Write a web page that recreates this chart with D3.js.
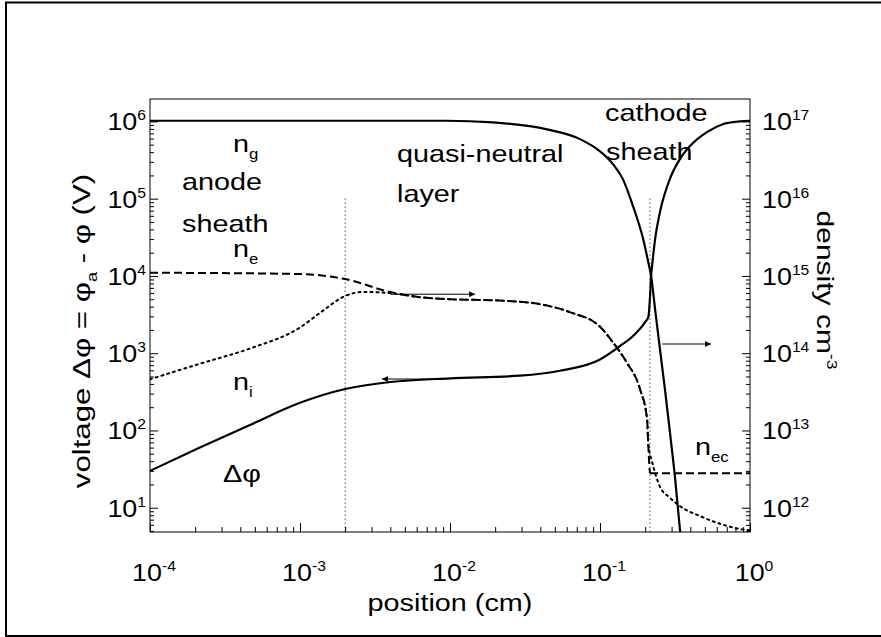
<!DOCTYPE html>
<html>
<head>
<meta charset="utf-8">
<script src="https://cdn.jsdelivr.net/npm/d3@7"></script>
<style>
  body { margin: 0; background: #fff; }
  svg text { font-family: "Liberation Sans", Arial, Helvetica, sans-serif; fill: #000; }
</style>
</head>
<body>
<svg id="chart" width="881" height="637"></svg>
<script>
// ---- axis domains and tick decades ----
const posDomain = [1e-4, 1];
const voltDomain = [4.85, 1.95e6];
const densDomain = [4.85e11, 1.95e17];
const posDecades = [-4, -3, -2, -1, 0];
const voltDecades = [1, 2, 3, 4, 5, 6];
const densDecades = [12, 13, 14, 15, 16, 17];

// ---- potential drop Δφ (V) vs position (cm) ----
const phiX = [1e-4, 2.15e-4, 4.64e-4, 1e-3, 2e-3, 4e-3, 1e-2, 2.93e-2, 5.4e-2, 0.1, 0.136, 0.166, 0.2, 0.21, 0.2154, 0.219, 0.222, 0.233, 0.251, 0.292, 0.341, 0.398, 0.516, 0.658, 0.858, 1];
const phiV = [30, 60, 118, 228, 344, 424, 473, 512, 593, 830, 1240, 1670, 2530, 2940, 5300, 1.0e4, 1.3e4, 3.0e4, 6.7e4, 1.79e5, 3.25e5, 4.79e5, 7.26e5, 9.2e5, 1.0e6, 1.02e6];

// ---- gas density n_g (cm^-3) ----
const ngX = [1e-4, 1e-3, 0.0095, 0.0194, 0.0443, 0.0736, 0.1, 0.122, 0.142, 0.166, 0.194, 0.209, 0.219, 0.233, 0.251, 0.271, 0.292, 0.316, 0.341, 0.35];
const ngV = [1.02e17, 1.02e17, 1.02e17, 9.7e16, 7.9e16, 5.9e16, 4.1e16, 2.8e16, 1.79e16, 8.0e15, 3.0e15, 1.56e15, 1.0e15, 3.7e14, 1.13e14, 3.4e13, 9.8e12, 2.5e12, 5.3e11, 3.3e11];

// ---- electron density n_e (cm^-3) ----
const neX = [1e-4, 1e-3, 2e-3, 4e-3, 6.3e-3, 1e-2, 2.15e-2, 4e-2, 6.3e-2, 0.1, 0.122, 0.15, 0.185, 0.206, 0.21, 0.214, 0.2154];
const neV = [1.1e15, 1.06e15, 9.1e14, 6.2e14, 5.3e14, 5.0e14, 4.8e14, 4.3e14, 3.4e14, 2.2e14, 1.38e14, 7.7e13, 3.4e13, 1.4e13, 6.3e12, 3.2e12, 2.8e12];

// ---- electron density in the cathode sheath n_ec (cm^-3) ----
const necX = [0.2154, 1];
const necV = [2.8e12, 2.8e12];

// ---- ion density n_i (cm^-3) ----
const niX = [1e-4, 2.15e-4, 4.64e-4, 1e-3, 1.38e-3, 2e-3, 2.6e-3, 4e-3, 6.3e-3, 1e-2, 2.15e-2, 4e-2, 6.3e-2, 0.1, 0.122, 0.15, 0.185, 0.206, 0.21, 0.222, 0.25, 0.292, 0.341, 0.464, 0.631, 0.858, 1];
const niV = [4.6e13, 7.3e13, 1.15e14, 2.15e14, 3.4e14, 5.5e14, 6.2e14, 6.0e14, 5.3e14, 5.0e14, 4.8e14, 4.3e14, 3.4e14, 2.2e14, 1.38e14, 7.7e13, 3.4e13, 1.4e13, 6.5e12, 4.0e12, 1.9e12, 1.35e12, 1.05e12, 7.8e11, 6.2e11, 5.3e11, 5.1e11];

// ---- sheath boundaries (cm), drawn from 1e5 V down ----
const boundaryX = [2e-3, 0.2154];
const boundaryTop = 1e5;

// ---- arrows pointing each curve to its axis: [x0, x1, level in V] ----
const arrowStart = [0.004, 0.0082, 0.26];
const arrowEnd = [0.0147, 0.00352, 0.55];
const arrowLevel = [5800, 463, 1315];

// ---- layout ----
const plot = { left: 150, right: 750, top: 99, bottom: 532 };
const FONT = 24, SUP = 14, STRETCH = 1.2, TICKSTRETCH = 1.12;

const svg = d3.select('#chart');

// figure frame
svg.append('rect')
  .attr('x', 6).attr('y', 2.5).attr('width', 880).attr('height', 633.5)
  .attr('fill', 'none').attr('stroke', '#000').attr('stroke-width', 2);

const x = d3.scaleLog().domain(posDomain).range([plot.left, plot.right]);
const yV = d3.scaleLog().domain(voltDomain).range([plot.bottom, plot.top]);
const yN = d3.scaleLog().domain(densDomain).range([plot.bottom, plot.top]);

function minors(domain) {
  const out = [];
  const lo = Math.floor(Math.log10(domain[0])), hi = Math.ceil(Math.log10(domain[1]));
  for (let e = lo; e <= hi; e++) {
    for (let m = 2; m <= 9; m++) {
      const v = m * Math.pow(10, e);
      if (v > domain[0] && v < domain[1]) out.push(v);
    }
  }
  return out;
}

// clip for curves
svg.append('defs').append('clipPath').attr('id', 'plotclip')
  .append('rect').attr('x', plot.left).attr('y', plot.top)
  .attr('width', plot.right - plot.left).attr('height', plot.bottom - plot.top);

svg.select('defs').append('marker')
  .attr('id', 'head').attr('viewBox', '0 0 10 10')
  .attr('refX', 10).attr('refY', 5)
  .attr('markerWidth', 10).attr('markerHeight', 6).attr('markerUnits', 'userSpaceOnUse')
  .attr('orient', 'auto')
  .append('path').attr('d', 'M0,0 L10,5 L0,10 Z').attr('fill', '#000');

// plot box
svg.append('rect')
  .attr('x', plot.left).attr('y', plot.top)
  .attr('width', plot.right - plot.left).attr('height', plot.bottom - plot.top)
  .attr('fill', 'none').attr('stroke', '#000').attr('stroke-width', 1);

function styleAxis(g) {
  g.selectAll('path.domain').remove();
  g.selectAll('.tick line').attr('stroke', '#000').attr('stroke-width', 1);
  g.selectAll('.tick text').remove();
}

const pow10 = e => Math.pow(10, e);

// bottom axis, ticks pointing inward
svg.append('g').attr('transform', `translate(0,${plot.bottom})`)
  .call(d3.axisBottom(x).tickValues(posDecades.map(pow10)).tickSizeInner(-9).tickSizeOuter(0))
  .call(styleAxis);
svg.append('g').attr('transform', `translate(0,${plot.bottom})`)
  .call(d3.axisBottom(x).tickValues(minors(posDomain)).tickSizeInner(-5).tickSizeOuter(0))
  .call(styleAxis);

// left (voltage) axis
svg.append('g').attr('transform', `translate(${plot.left},0)`)
  .call(d3.axisLeft(yV).tickValues(voltDecades.map(pow10)).tickSizeInner(-8).tickSizeOuter(0))
  .call(styleAxis);
svg.append('g').attr('transform', `translate(${plot.left},0)`)
  .call(d3.axisLeft(yV).tickValues(minors(voltDomain)).tickSizeInner(-4).tickSizeOuter(0))
  .call(styleAxis);

// right (density) axis
svg.append('g').attr('transform', `translate(${plot.right},0)`)
  .call(d3.axisRight(yN).tickValues(densDecades.map(pow10)).tickSizeInner(-8).tickSizeOuter(0))
  .call(styleAxis);
svg.append('g').attr('transform', `translate(${plot.right},0)`)
  .call(d3.axisRight(yN).tickValues(minors(densDomain)).tickSizeInner(-4).tickSizeOuter(0))
  .call(styleAxis);

// text helper: parts = [[string, 'n'|'sup'|'sub'], ...]
function label(px, py, parts, opts = {}) {
  const size = opts.size || FONT;
  const sx = opts.stretch || STRETCH;
  const rot = opts.rotate || 0;
  const g = svg.append('g').attr('transform', `translate(${px},${py}) rotate(${rot}) scale(${sx},1)`);
  const t = g.append('text').attr('x', 0).attr('y', 0)
    .attr('font-size', size).attr('text-anchor', opts.anchor || 'start');
  let shift = 0;
  parts.forEach(([s, kind]) => {
    const target = kind === 'sup' ? -size * 0.42 : kind === 'sub' ? size * 0.3 : 0;
    const ts = t.append('tspan').text(s).attr('dy', target - shift);
    if (kind === 'sup' || kind === 'sub') ts.attr('font-size', opts.small || SUP);
    shift = target;
  });
  return t;
}

// tick labels
posDecades.forEach(e => {
  label(x(pow10(e)) + 4, 581, [['10', 'n'], [String(e), 'sup']], { anchor: 'middle', stretch: TICKSTRETCH });
});
voltDecades.forEach(e => {
  label(plot.left - 4, yV(pow10(e)) + 9, [['10', 'n'], [String(e), 'sup']], { anchor: 'end', stretch: TICKSTRETCH });
});
densDecades.forEach(e => {
  label(plot.right + 12, yN(pow10(e)) + 9, [['10', 'n'], [String(e), 'sup']], { anchor: 'start', stretch: TICKSTRETCH });
});

// axis titles
label(450, 611, [['position (cm)', 'n']], { anchor: 'middle' });
label(90, 331, [['voltage   Δφ = φ', 'n'], ['a', 'sub'], [' - φ (V)', 'n']], { anchor: 'middle', rotate: -90, stretch: 1.3 });
label(817, 290, [['density cm', 'n'], ['-3', 'sup']], { anchor: 'middle', rotate: 90, stretch: 1.25 });

// curves
const curves = svg.append('g').attr('clip-path', 'url(#plotclip)');
function curve(xs, vs, yScale, dash, width) {
  const pts = xs.map((d, i) => [x(d), yScale(vs[i])]);
  curves.append('path')
    .attr('d', d3.line().curve(d3.curveMonotoneX)(pts))
    .attr('fill', 'none').attr('stroke', '#000')
    .attr('stroke-width', width)
    .attr('stroke-dasharray', dash)
    .attr('stroke-linecap', dash === '2,4' ? 'round' : 'butt');
}

// sheath boundaries
boundaryX.forEach(b => {
  curves.append('line')
    .attr('x1', x(b)).attr('x2', x(b))
    .attr('y1', yV(boundaryTop)).attr('y2', plot.bottom)
    .attr('stroke', '#000').attr('stroke-width', 1).attr('stroke-dasharray', '1,3');
});

curve(niX, niV, yN, '2,4', 2);
curve(neX, neV, yN, '8,4', 2);
curve(necX, necV, yN, '8,4', 2);
curve(ngX, ngV, yN, null, 2.2);
curve(phiX, phiV, yV, null, 2.2);

// arrows
arrowStart.forEach((s, i) => {
  svg.append('line')
    .attr('x1', x(s)).attr('x2', x(arrowEnd[i]))
    .attr('y1', yV(arrowLevel[i])).attr('y2', yV(arrowLevel[i]))
    .attr('stroke', '#000').attr('stroke-width', 1)
    .attr('marker-end', 'url(#head)');
});

// annotations
label(233, 152, [['n', 'n'], ['g', 'sub']]);
label(182, 190, [['anode', 'n']]);
label(182, 232, [['sheath', 'n']]);
label(233, 257, [['n', 'n'], ['e', 'sub']]);
label(397, 162, [['quasi-neutral', 'n']]);
label(397, 202, [['layer', 'n']]);
label(605, 121, [['cathode', 'n']]);
label(606, 160, [['sheath', 'n']]);
label(233, 390, [['n', 'n'], ['i', 'sub']]);
label(223, 482, [['Δφ', 'n']]);
label(695, 455, [['n', 'n'], ['ec', 'sub']]);
</script>
</body>
</html>
